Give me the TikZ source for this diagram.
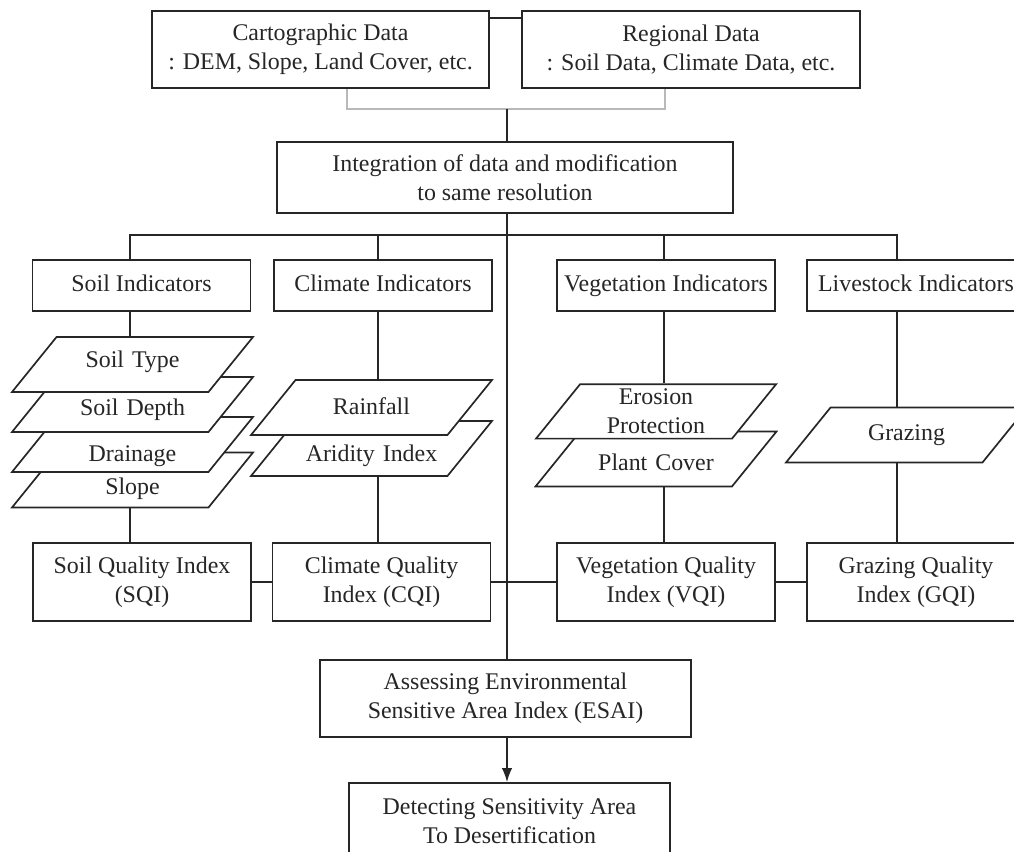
\documentclass[tikz,border=0pt]{standalone}
\usepackage{fontspec}
\setmainfont{Liberation Serif}
\usetikzlibrary{shapes,arrows.meta,calc}

\newcommand{\flowfont}{\fontsize{17}{20.6}\selectfont}

\begin{document}
\begin{tikzpicture}[x=0.025cm, y=-0.025cm, font=\flowfont, line width=1.2pt, color=black!85,
  box/.style={rectangle, draw, fill=white, inner xsep=2pt, inner ysep=2pt, align=center},
  ind/.style={box, minimum width=5.45cm, minimum height=1.275cm, text height=12pt, text depth=4pt},
  qual/.style={box, minimum width=5.45cm, minimum height=1.95cm},
  layer/.style={trapezium, trapezium left angle=51, trapezium right angle=129,
    draw, fill=white, align=center, text width=3.8cm, inner sep=0pt},
  bracket/.style={draw=gray!55}]
\useasboundingbox (0,0) rectangle (1014,852);
\clip (0,0) rectangle (1014,852);

% input data
\node[box, minimum width=8.425cm, minimum height=1.925cm] (cart) at (320.5,49.5) {Cartographic Data\\: DEM, Slope, Land Cover, etc.};
\node[box, minimum width=8.45cm, minimum height=1.925cm] (reg) at (691,49.5) {Regional Data\\: Soil Data, Climate Data, etc.};
\node[box, minimum width=11.4cm, minimum height=1.775cm] (integ) at (505,177.5) {Integration of data and modification\\to same resolution};
\coordinate (merge) at (507,109);

% indicator groups
\node[ind] (soilind) at (141.5,285.5) {Soil Indicators};
\node[ind] (climind) at (383,285.5) {Climate Indicators};
\node[ind] (vegind) at (666,285.5) {Vegetation Indicators};
\node[ind] (liveind) at (916,285.5) {Livestock Indicators};
\coordinate (c1) at (130,235);
\coordinate (c2) at (378,235);
\coordinate (c3) at (664,235);
\coordinate (c4) at (897,235);

% layers, lowest first (text height + depth = 39pt, split sets where the words sit)
\node[layer, text height=29.9pt, text depth=9.1pt] (sslope) at (132.5,480) {Slope};
\node[layer, text height=31.7pt, text depth=7.3pt] (drain) at (132.5,444.5) {Drainage};
\node[layer, text height=27.4pt, text depth=11.6pt] (sdepth) at (132.5,404.5) {Soil Depth};
\node[layer, text height=21.7pt, text depth=17.3pt] (stype) at (132.5,364.5) {Soil Type};
\node[layer, text height=28.8pt, text depth=10.2pt] (arid) at (371.5,448.5) {Aridity Index};
\node[layer, text height=24.5pt, text depth=14.5pt] (rain) at (371.5,407.5) {Rainfall};
\node[layer, text height=27.8pt, text depth=11.2pt] (plant) at (656,459) {Plant Cover};
\node[layer, inner ysep=3.3pt] (erosion) at (656,411.5) {Erosion\\Protection};
\node[layer, text height=23.5pt, text depth=15.5pt] (graze) at (906.5,435) {Grazing};

% quality indices
\node[qual] (sqi) at (142,582) {Soil Quality Index\\(SQI)};
\node[qual] (cqi) at (381.5,582) {Climate Quality\\Index (CQI)};
\node[qual] (vqi) at (666,582) {Vegetation Quality\\Index (VQI)};
\node[qual] (gqi) at (916,582) {Grazing Quality\\Index (GQI)};

% result
\node[box, minimum width=9.275cm, minimum height=1.925cm] (esai) at (505.5,698.5) {Assessing Environmental\\Sensitive Area Index (ESAI)};
\node[box, minimum width=8.025cm, minimum height=1.925cm] (detect) at (509.5,821.5) {Detecting Sensitivity Area\\To Desertification};

\draw ([yshift=-5.7pt]cart.north east) -- ([yshift=-5.7pt]reg.north west);
\draw[bracket] ($(cart.south)+(26.5,0)$) |- (merge) -| ($(reg.south)+(-26,0)$);
\draw (merge) -- (merge |- integ.north);
\draw (merge |- integ.south) -- (merge |- esai.north);
\draw (c1 |- soilind.north) -- (c1) -- (c4) -- (c4 |- liveind.north);
\draw (c2) -- (c2 |- climind.north);
\draw (c3) -- (c3 |- vegind.north);

\draw (c1 |- soilind.south) -- (c1 |- stype.north);
\draw (c1 |- sslope.south) -- (c1 |- sqi.north);
\draw (c2 |- climind.south) -- (c2 |- rain.north);
\draw (c2 |- arid.south) -- (c2 |- cqi.north);
\draw (c3 |- vegind.south) -- (c3 |- erosion.north);
\draw (c3 |- plant.south) -- (c3 |- vqi.north);
\draw (c4 |- liveind.south) -- (c4 |- graze.north);
\draw (c4 |- graze.south) -- (c4 |- gqi.north);

\draw (sqi) -- (cqi);
\draw (cqi) -- (vqi);
\draw (vqi) -- (gqi);
\draw[-{Latex[length=10pt,width=7.5pt]}] (merge |- esai.south) -- (merge |- detect.north);
\end{tikzpicture}
\end{document}
